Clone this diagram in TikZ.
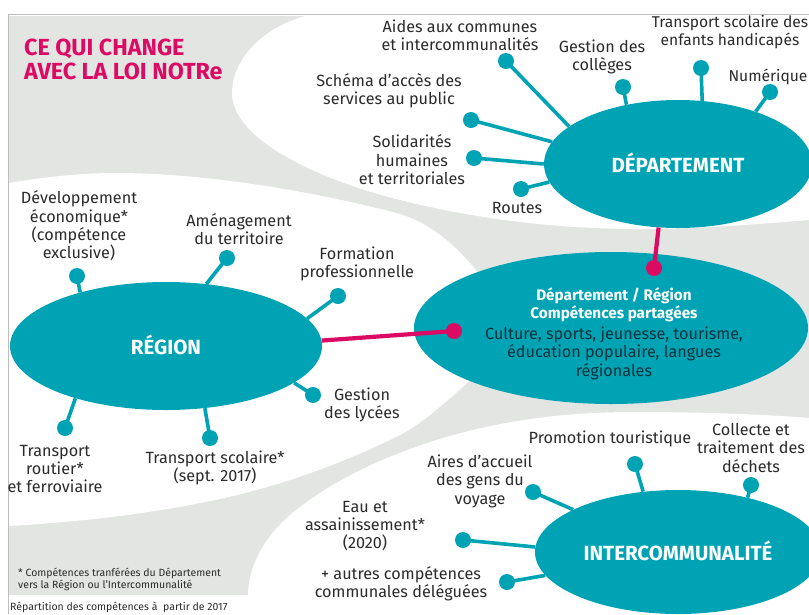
\documentclass[tikz,border=0pt]{standalone}
\usepackage{fontspec}
\setmainfont{Fira Sans}
\usetikzlibrary{shapes.geometric}
\definecolor{teal0}{HTML}{00A3B4}
\definecolor{gray0}{HTML}{E3E5E3}
\definecolor{frame0}{HTML}{BDBDBD}
\definecolor{mag0}{HTML}{DD0A63}
\definecolor{ink0}{HTML}{2B2B2B}
\definecolor{inkb}{HTML}{06323C}
\tikzset{
  x=1pt,y=-1pt,
  blob/.style={fill=white,draw=none},
  hub/.style={ellipse,fill=teal0,inner sep=0pt,text=white,text depth=2.5pt,font=\fontsize{20.5}{22}\selectfont\bfseries},
  dot/.style={circle,fill=teal0,minimum size=16pt,inner sep=0pt},
  mdot/.style={circle,fill=mag0,minimum size=16pt,inner sep=0pt},
  spoke/.style={draw=teal0,line width=3.6pt},
  link/.style={draw=mag0,line width=4.2pt},
  lab/.style={align=center,text=ink0,inner sep=0pt,font=\fontsize{16.2}{18.4}\selectfont},
  labs/.style={lab,font=\fontsize{15.6}{18.4}\selectfont},
  note/.style={align=left,anchor=west,text=ink0,inner sep=0pt,font=\fontsize{10.5}{12}\selectfont},
}
\begin{document}
\begin{tikzpicture}
\clip (0,0) rectangle (809,614);
\fill[white] (0,0) rectangle (809,614);
\fill[gray0] (9,16) rectangle (809,595);
\draw[frame0,line width=1.5pt] (8.5,614) -- (8.5,14.5) -- (809,14.5);
% white backgrounds
\fill[blob] (305,16) .. controls (262,28) and (232,60) .. (232,93)
  .. controls (232,140) and (320,180) .. (400,200)
  .. controls (480,220) and (560,229) .. (640,229)
  .. controls (700,229) and (760,224) .. (809,220) -- (809,16) -- cycle;
\fill[blob] (9,183) .. controls (50,176) and (85,173) .. (117,173)
  .. controls (200,173) and (310,190) .. (400,214)
  .. controls (435,225) and (460,250) .. (480,275) -- (520,340) -- (467,383)
  .. controls (445,403) and (420,425) .. (400,435)
  .. controls (340,465) and (270,490) .. (200,503)
  .. controls (130,517) and (60,523) .. (9,526) -- cycle;
\fill[blob] (248,595) .. controls (248,570) and (262,535) .. (300,507)
  .. controls (335,480) and (380,460) .. (400,453)
  .. controls (470,425) and (550,412) .. (633,412)
  .. controls (700,412) and (760,414) .. (809,418) -- (809,595) -- cycle;
% hubs
\node[hub,minimum width=268pt,minimum height=128pt] (dept) at (678,164) {DÉPARTEMENT};
\node[hub,minimum width=312pt,minimum height=128pt] (reg) at (166,346) {RÉGION};
\node[hub,minimum width=394pt,minimum height=152pt] (shared) at (611,328) {};
\node[hub,minimum width=286pt,minimum height=124pt] (inter) at (678,552) {INTERCOMMUNALITÉ};
% dots
\node[dot] (d1) at (506,61) {};
\node[dot] (d2) at (471,120) {};
\node[dot] (d3) at (474,158) {};
\node[dot] (d4) at (521,189) {};
\node[dot] (d5) at (623,87) {};
\node[dot] (d6) at (701,68) {};
\node[dot] (d7) at (770,92) {};
\node[dot] (r1) at (77,276) {};
\node[dot] (r2) at (227,258) {};
\node[dot] (r3) at (338,296) {};
\node[dot] (r4) at (313,395) {};
\node[dot] (r5) at (210,438) {};
\node[dot] (r6) at (65,428) {};
\node[dot] (i1) at (533,492) {};
\node[dot] (i2) at (635,464) {};
\node[dot] (i3) at (751,485) {};
\node[dot] (i4) at (463,540) {};
\node[dot] (i5) at (507,582) {};
\node[mdot] (m1) at (654,268) {};
\node[mdot] (m2) at (454,331) {};
% spokes
\draw[spoke] (d1.center) -- (dept.161.4);
\draw[spoke] (d2.center) -- (dept.170);
\draw[spoke] (d3.center) -- (dept.180);
\draw[spoke] (d4.center) -- (dept.188.3);
\draw[spoke] (d5.center) -- (dept.131.3);
\draw[spoke] (d6.center) -- (dept.69.6);
\draw[spoke] (d7.center) -- (dept.34.4);
\draw[spoke] (r1.center) -- (reg.148.2);
\draw[spoke] (r2.center) -- (reg.57);
\draw[spoke] (r3.center) -- (reg.11.6);
\draw[spoke] (r4.center) -- (reg.-16);
\draw[spoke] (r5.center) -- (reg.-58.5);
\draw[spoke] (r6.center) -- (reg.210.7);
\draw[spoke] (i1.center) -- (inter.158.7);
\draw[spoke] (i2.center) -- (inter.120.7);
\draw[spoke] (i3.center) -- (inter.38.9);
\draw[spoke] (i4.center) -- (inter.178);
\draw[spoke] (i5.center) -- (inter.190.4);
\draw[link] (dept.253.5) -- (m1.center);
\draw[link] (reg.2.6) -- (m2.center);
% title
\node[anchor=west,align=left,text=mag0,inner sep=0pt,font=\fontsize{23.3}{24}\selectfont\bfseries] (title) at (24,59) {CE QUI CHANGE\\AVEC LA LOI NOTRe};
% labels
\node[lab] (t1) at (460,35) {Aides aux communes\\et intercommunalités};
\node[lab] (t2) at (602,57) {Gestion des\\collèges};
\node[labs] (t3) at (730,32) {Transport scolaire des\\enfants handicapés};
\node[labs] (t4) at (768,77) {Numérique};
\node[lab] (t5) at (389,91) {Schéma d’accès des\\services au public};
\node[lab] (t6) at (412,160) {Solidarités\\humaines\\et territoriales};
\node[lab] (t7) at (517,208) {Routes};
\node[lab] (t8) at (79,226) {Développement\\économique*\\(compétence\\exclusive)};
\node[lab] (t9) at (239,229) {Aménagement\\du territoire};
\node[lab] (t10) at (357,264) {Formation\\professionnelle};
\node[lab] (t11) at (362,405) {Gestion\\des lycées};
\node[lab] (t12) at (215,468) {Transport scolaire*\\(sept. 2017)};
\node[lab] (t13) at (55,469) {Transport\\routier*\\et ferroviaire};
\node[lab,text=white,font=\fontsize{15.3}{18}\selectfont\bfseries] (t14) at (614,305) {Département / Région\\Compétences partagées};
\node[lab,text=inkb] (t15) at (614,353) {Culture, sports, jeunesse, tourisme,\\éducation populaire, langues\\régionales};
\node[lab] (t16) at (610,439) {Promotion touristique};
\node[lab] (t17) at (751,448) {Collecte et\\traitement des\\déchets};
\node[lab] (t18) at (480,481) {Aires d’accueil\\des gens du\\voyage};
\node[lab] (t19) at (365,526) {Eau et\\assainissement*\\(2020)};
\node[lab] (t20) at (401,584) {+ autres compétences\\communales déléguées};
\node[note] (n1) at (18,579) {* Compétences tranférées du Département\\vers la Région ou l’Intercommunalité};
\node[note] (n2) at (10,607) {Répartition des compétences à \ partir de 2017};
\end{tikzpicture}
\end{document}
